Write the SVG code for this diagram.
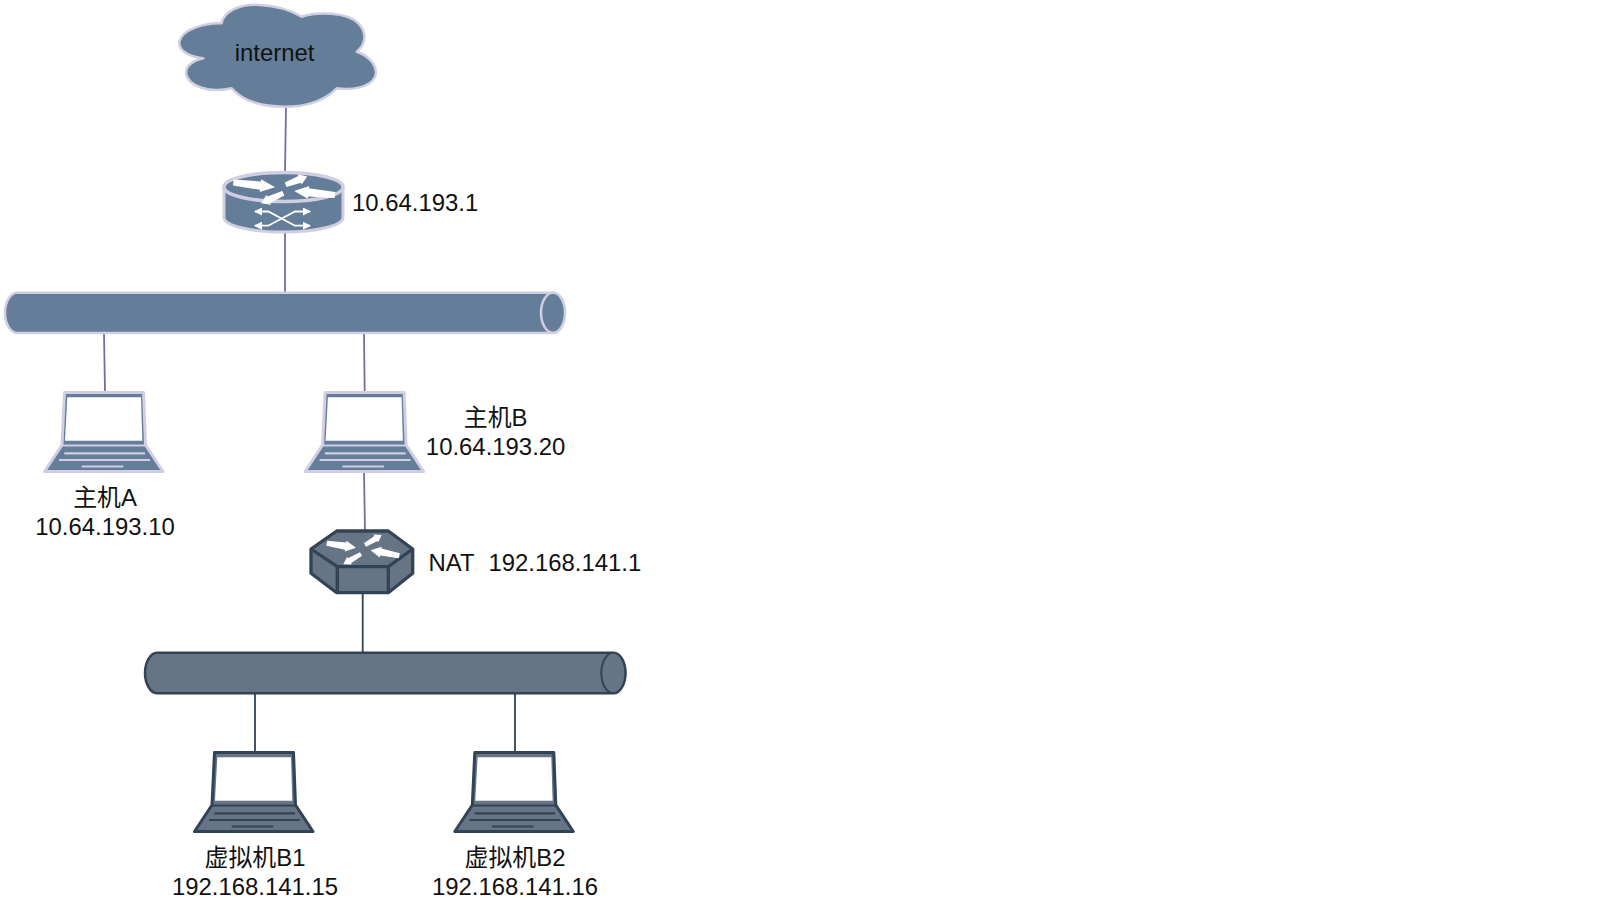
<svg xmlns="http://www.w3.org/2000/svg" width="1620" height="902" viewBox="0 0 1620 902">
<style>
text{font-family:"Liberation Sans","Noto Sans CJK SC",sans-serif;font-size:23.9px;fill:#111;text-anchor:middle}
.st{text-anchor:start}
.bl{fill:#647d98;stroke:#d0cee2;stroke-width:2.5;stroke-linejoin:round}
.bd{fill:#667585;stroke:#314354;stroke-width:2.5;stroke-linejoin:round}
.ll{fill:none;stroke:#d0cee2;stroke-width:2.2}
.ld{fill:none;stroke:#314354;stroke-width:2.2}
.w{fill:#fff}
.c1{stroke:#736ca8;stroke-width:1.8;fill:none}
.c2{stroke:#314354;stroke-width:1.8;fill:none}
.x{fill:none;stroke:#fff;stroke-width:1.8}
.a{fill:#fff}
</style>
<defs>
<polygon id="ar" class="a" points="0,-.45 .65,-.65 .65,-1 1,0 .65,1 .65,.65 0,.45"/>
<marker id="tip" markerUnits="userSpaceOnUse" markerWidth="9" markerHeight="8" refX="7" refY="4" orient="auto-start-reverse"><path d="M0 0L8 4L0 8Z" fill="#fff"/></marker>
<g id="laptopL">
<path class="bl" style="stroke-width:3" d="M64.5 392.5H143.5L145.5 445L163 471.5H44.5L62 445Z"/>
<path class="w" d="M67.3 397.3H141L142.3 440.7H65Z"/>
<path class="ll" d="M62 445.5H145.5M64.3 453.3H145M59 460H150M81.7 466.5H123.3"/>
</g>
<g id="laptopD">
<path class="bd" style="stroke-width:3" d="M64.5 392.5H143.5L145.5 445L163 471.5H44.5L62 445Z"/>
<path class="w" d="M67.3 397.3H141L142.3 440.7H65Z"/>
<path class="ld" d="M62 445.5H145.5M64.3 453.3H145M59 460H150M81.7 466.5H123.3"/>
</g>
</defs>
<rect width="1620" height="902" fill="#fff"/>
<g id="connectors">
<path class="c1" d="M286 107L285 172M285 232V293M104 333L105 392M364 333L364.7 392M364 472L365 531"/>
<path class="c2" d="M362.7 593V653M255 693V752M515 693V752"/>
</g>
<g id="cloud">
<path class="bl" d="M221.7 23.3C223.3 11.7 240 3.3 260 5C280 6 293.3 11.7 301.7 16.7C316.7 11.7 346.7 11.7 358.3 23.3C366.7 31.7 366.7 43.3 356.7 51.7C371.7 56.7 378.3 68.3 375 76.7C370 87.3 351.7 90.7 336.7 88.3C323.3 101.7 303.3 106.7 285 106.7C263.3 106.7 243.3 101.7 231.7 88.3C210 93.3 188.3 86.7 186 73.3C186 65 193.3 60.7 203.3 58.3C188.3 56.7 178.3 50 179.3 41.7C181.7 30 203.3 22.7 221.7 23.3Z"/>
<text x="274.5" y="61">internet</text>
</g>
<g id="router">
<path class="bl" style="stroke-width:3" d="M224 187V217.5C224 225.5 250 232 283.5 232S343 225.5 343 217.5V187Z"/>
<ellipse class="bl" cx="283.5" cy="187" rx="59.5" ry="14.5" style="stroke-width:3.5"/>
<use href="#ar" transform="translate(233.3 182.5) rotate(6.5) scale(42 6.5)"/>
<use href="#ar" transform="translate(285.7 184.7) rotate(-21) scale(23 5.5)"/>
<use href="#ar" transform="translate(335 195) rotate(185.7) scale(41 6.5)"/>
<use href="#ar" transform="translate(283.3 193.3) rotate(155.8) scale(24.4 5.5)"/>
<path class="x" marker-start="url(#tip)" marker-end="url(#tip)" d="M255 211.5H268.3L295 225.7H310"/>
<path class="x" marker-start="url(#tip)" marker-end="url(#tip)" d="M255 225.7H268.3L295 211.5H310"/>
<text class="st" x="352" y="211">10.64.193.1</text>
</g>
<g id="bus1">
<path class="bl" d="M17 292.7H553C560 292.7 565 302 565 312.8S560 333 553 333H17C10 333 5 323 5 312.8S10 292.7 17 292.7Z"/>
<ellipse class="bl" cx="553" cy="312.8" rx="12" ry="20"/>
</g>
<g id="hostA">
<use href="#laptopL"/>
<text x="105" y="505.5">主机A</text>
<text x="105" y="535">10.64.193.10</text>
</g>
<g id="hostB">
<use href="#laptopL" transform="translate(260.6 0)"/>
<text x="495.6" y="426">主机B</text>
<text x="495.6" y="455">10.64.193.20</text>
</g>
<g id="nat">
<path class="bd" d="M336.7 531H388.3L412.7 549V573.3L388.3 592.7H336.7L311 573.3V549Z" style="stroke-width:3.3"/>
<path class="ld" d="M311 549L337.3 566.7H388.3L412.7 549M337.3 566.7V592.7M388.3 566.7V592.7" style="stroke-width:3.3"/>
<use href="#ar" transform="translate(326.7 543.3) rotate(8.5) scale(29.6 5.5)"/>
<use href="#ar" transform="translate(365 545) rotate(-31) scale(19.5 4.5)"/>
<use href="#ar" transform="translate(399.3 555.7) rotate(191) scale(29.2 5.5)"/>
<use href="#ar" transform="translate(361 554) rotate(149.8) scale(20.5 4.5)"/>
<text class="st" x="428.5" y="570.5">NAT</text>
<text class="st" x="488.5" y="570.5">192.168.141.1</text>
</g>
<g id="bus2">
<path class="bd" d="M157 652.7H613.3C620 652.7 625.5 662 625.5 673S620 693.3 613.3 693.3H157C150 693.3 145 683 145 673S150 652.7 157 652.7Z"/>
<ellipse class="bd" cx="613.3" cy="673" rx="12" ry="20.3" style="stroke-width:2"/>
</g>
<g id="vmB1">
<use href="#laptopD" transform="translate(150 360)"/>
<text x="255" y="865.5">虚拟机B1</text>
<text x="255" y="894.5">192.168.141.15</text>
</g>
<g id="vmB2">
<use href="#laptopD" transform="translate(410.3 360)"/>
<text x="515" y="865.5">虚拟机B2</text>
<text x="515" y="894.5">192.168.141.16</text>
</g>
</svg>
